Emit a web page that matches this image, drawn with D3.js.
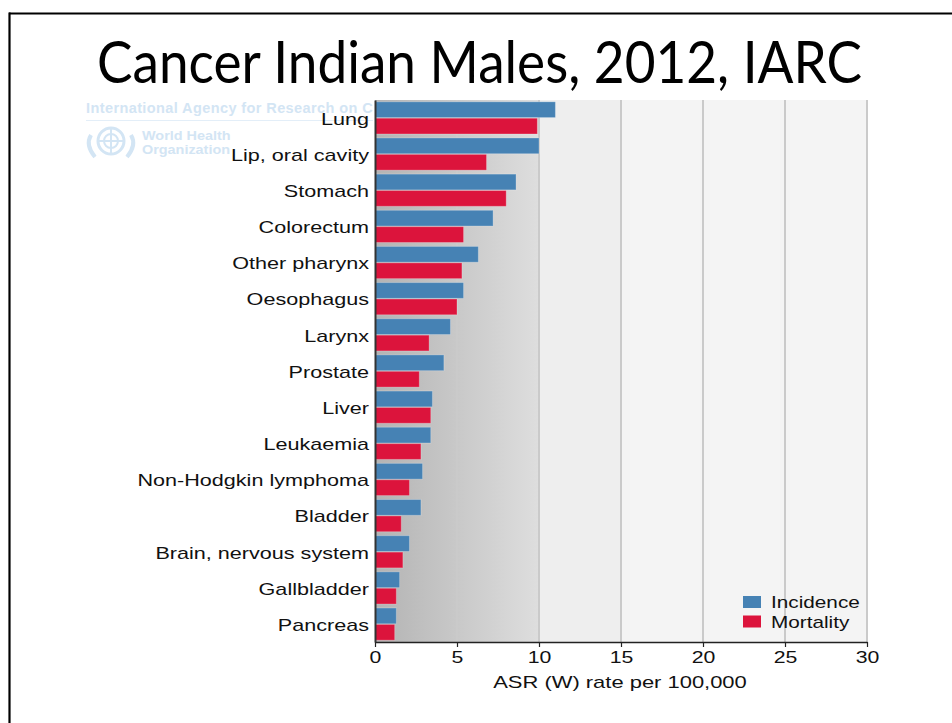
<!DOCTYPE html>
<html>
<head>
<meta charset="utf-8">
<script src="https://cdn.jsdelivr.net/npm/d3@7"></script>
<style>
  html, body { margin: 0; padding: 0; background: #fff; }
  svg { display: block; }
  .lbl { font-family: "Liberation Sans", Arial, sans-serif; font-size: 17px; fill: #111; }
</style>
</head>
<body>
<svg id="chart" width="952" height="723"></svg>
<script>
const categories = ["Lung", "Lip, oral cavity", "Stomach", "Colorectum", "Other pharynx", "Oesophagus",
  "Larynx", "Prostate", "Liver", "Leukaemia", "Non-Hodgkin lymphoma", "Bladder",
  "Brain, nervous system", "Gallbladder", "Pancreas"];
const incidence = [11.0, 10.0, 8.6, 7.2, 6.3, 5.4, 4.6, 4.2, 3.5, 3.4, 2.9, 2.8, 2.1, 1.5, 1.3];
const mortality = [9.9, 6.8, 8.0, 5.4, 5.3, 5.0, 3.3, 2.7, 3.4, 2.8, 2.1, 1.6, 1.7, 1.3, 1.2];
const seriesNames = ["Incidence", "Mortality"];
const seriesColors = ["#4682b4", "#dc143c"];
const xTicks = [0, 5, 10, 15, 20, 25, 30];
const title = "Cancer Indian Males, 2012, IARC";
const xTitle = "ASR (W) rate per 100,000";

const svg = d3.select("#chart");
const L = 375, R = 867, T = 100, B = 642;

function stretch(sel, f) {
  sel.each(function () {
    const w = this.getComputedTextLength();
    d3.select(this).attr("textLength", w * f).attr("lengthAdjust", "spacingAndGlyphs");
  });
}

// frame
svg.append("line").attr("x1", 9).attr("x2", 952).attr("y1", 13.5).attr("y2", 13.5)
  .attr("stroke", "#000").attr("stroke-width", 2.2);
svg.append("line").attr("x1", 9.5).attr("x2", 9.5).attr("y1", 12.5).attr("y2", 723)
  .attr("stroke", "#000").attr("stroke-width", 2.2);

// title
svg.append("text").attr("x", 97).attr("y", 83)
  .attr("textLength", 765).attr("lengthAdjust", "spacingAndGlyphs")
  .style("font-family", "Lato, 'Open Sans', sans-serif").style("font-size", "58px").style("fill", "#000")
  .text(title);

// watermark
const defs = svg.append("defs");
defs.append("clipPath").attr("id", "wmclip").append("rect")
  .attr("x", 0).attr("y", 90).attr("width", 373).attr("height", 80);
const wm = svg.append("g").attr("clip-path", "url(#wmclip)");
const wmColor = "#d3e5f4";
const wmFont = "'Liberation Sans', Arial, sans-serif";
wm.append("text").attr("x", 86).attr("y", 112.5)
  .style("font-family", wmFont).style("font-weight", "bold")
  .style("font-size", "14.5px").style("fill", wmColor).style("letter-spacing", "0.4px")
  .text("International Agency for Research on Cancer");
wm.append("line").attr("x1", 86).attr("x2", 373).attr("y1", 120.5).attr("y2", 120.5)
  .attr("stroke", "#e3eef8").attr("stroke-width", 1);
const emb = wm.append("g").attr("transform", "translate(111,141)");
emb.append("circle").attr("r", 13).attr("fill", "none").attr("stroke", wmColor).attr("stroke-width", 3);
emb.append("circle").attr("r", 7).attr("fill", "none").attr("stroke", wmColor).attr("stroke-width", 2);
emb.append("line").attr("x1", 0).attr("x2", 0).attr("y1", -12).attr("y2", 12).attr("stroke", wmColor).attr("stroke-width", 2);
emb.append("line").attr("x1", -12).attr("x2", 12).attr("y1", 0).attr("y2", 0).attr("stroke", wmColor).attr("stroke-width", 2);
emb.append("path").attr("d", "M-20,-6 Q-26,4 -16,16 M20,-6 Q26,4 16,16").attr("fill", "none").attr("stroke", wmColor).attr("stroke-width", 4);
wm.append("text").attr("x", 142).attr("y", 139.5)
  .style("font-family", wmFont).style("font-weight", "bold")
  .style("font-size", "12px").style("fill", wmColor).text("World Health").call(stretch, 1.2);
wm.append("text").attr("x", 142).attr("y", 153.5)
  .style("font-family", wmFont).style("font-weight", "bold")
  .style("font-size", "12px").style("fill", wmColor).text("Organization").call(stretch, 1.2);

// scales
const x = d3.scaleLinear().domain([0, 30]).range([L, R]);
const y = d3.scaleBand().domain(categories).range([T, B]).paddingInner(0.11).paddingOuter(0.05);
const ySub = d3.scaleBand().domain(seriesNames).range([0, y.bandwidth()]).paddingInner(0.04);

// background
const grad = defs.append("linearGradient").attr("id", "bg")
  .attr("gradientUnits", "userSpaceOnUse")
  .attr("x1", x(0)).attr("x2", x(10)).attr("y1", 0).attr("y2", 0);
grad.append("stop").attr("offset", "0%").attr("stop-color", "#b3b3b3");
grad.append("stop").attr("offset", "100%").attr("stop-color", "#dedede");
svg.append("rect").attr("x", x(15)).attr("y", T).attr("width", x(30) - x(15)).attr("height", B - T).attr("fill", "#f4f4f4");
svg.append("rect").attr("x", x(10)).attr("y", T).attr("width", x(15) - x(10)).attr("height", B - T).attr("fill", "#eeeeee");
svg.append("rect").attr("x", x(0)).attr("y", T).attr("width", x(10) - x(0)).attr("height", B - T).attr("fill", "url(#bg)");

// gridlines
svg.append("g").selectAll("line").data(xTicks.slice(1)).join("line")
  .attr("x1", d => x(d)).attr("x2", d => x(d)).attr("y1", T).attr("y2", B)
  .attr("stroke", "#cacaca").attr("stroke-width", 2);

// bars
const series = [incidence, mortality];
const gBars = svg.append("g");
series.forEach((vals, si) => {
  gBars.append("g").selectAll("rect").data(categories).join("rect")
    .attr("x", x(0))
    .attr("y", (c) => y(c) + ySub(seriesNames[si]))
    .attr("width", (c, i) => x(vals[i]) - x(0))
    .attr("height", ySub.bandwidth())
    .attr("fill", seriesColors[si])
    .attr("stroke", "rgba(255,255,255,0.25)").attr("stroke-width", 1);
});

// x axis
const xAxis = svg.append("g").attr("transform", `translate(0,${B})`)
  .call(d3.axisBottom(x).tickValues(xTicks).tickSize(5).tickSizeOuter(0).tickPadding(4));
xAxis.attr("font-family", null).attr("font-size", null);
xAxis.select(".domain").attr("stroke", "#222").attr("stroke-width", 1.5);
xAxis.selectAll(".tick line").attr("stroke", "#222").attr("stroke-width", 1.2);
xAxis.selectAll(".tick text").attr("class", "lbl").call(stretch, 1.25);

// y axis
const yAxis = svg.append("g").attr("transform", `translate(${L},0)`)
  .call(d3.axisLeft(y).tickSize(0).tickSizeOuter(0).tickPadding(6));
yAxis.attr("font-family", null).attr("font-size", null);
yAxis.select(".domain").attr("stroke", "#333").attr("stroke-width", 2);
yAxis.selectAll(".tick text").attr("class", "lbl").attr("dy", "0.4em").call(stretch, 1.27);

// x title
svg.append("text").attr("class", "lbl").attr("x", 620).attr("y", 688)
  .attr("text-anchor", "middle").text(xTitle).call(stretch, 1.29);

// legend
const leg = svg.append("g");
seriesNames.forEach((s, i) => {
  leg.append("rect").attr("x", 743).attr("y", 596 + i * 19.5).attr("width", 18).attr("height", 12)
    .attr("fill", seriesColors[i]);
  leg.append("text").attr("class", "lbl").attr("x", 771).attr("y", 608 + i * 19.5).text(s).call(stretch, 1.22);
});
</script>
</body>
</html>
